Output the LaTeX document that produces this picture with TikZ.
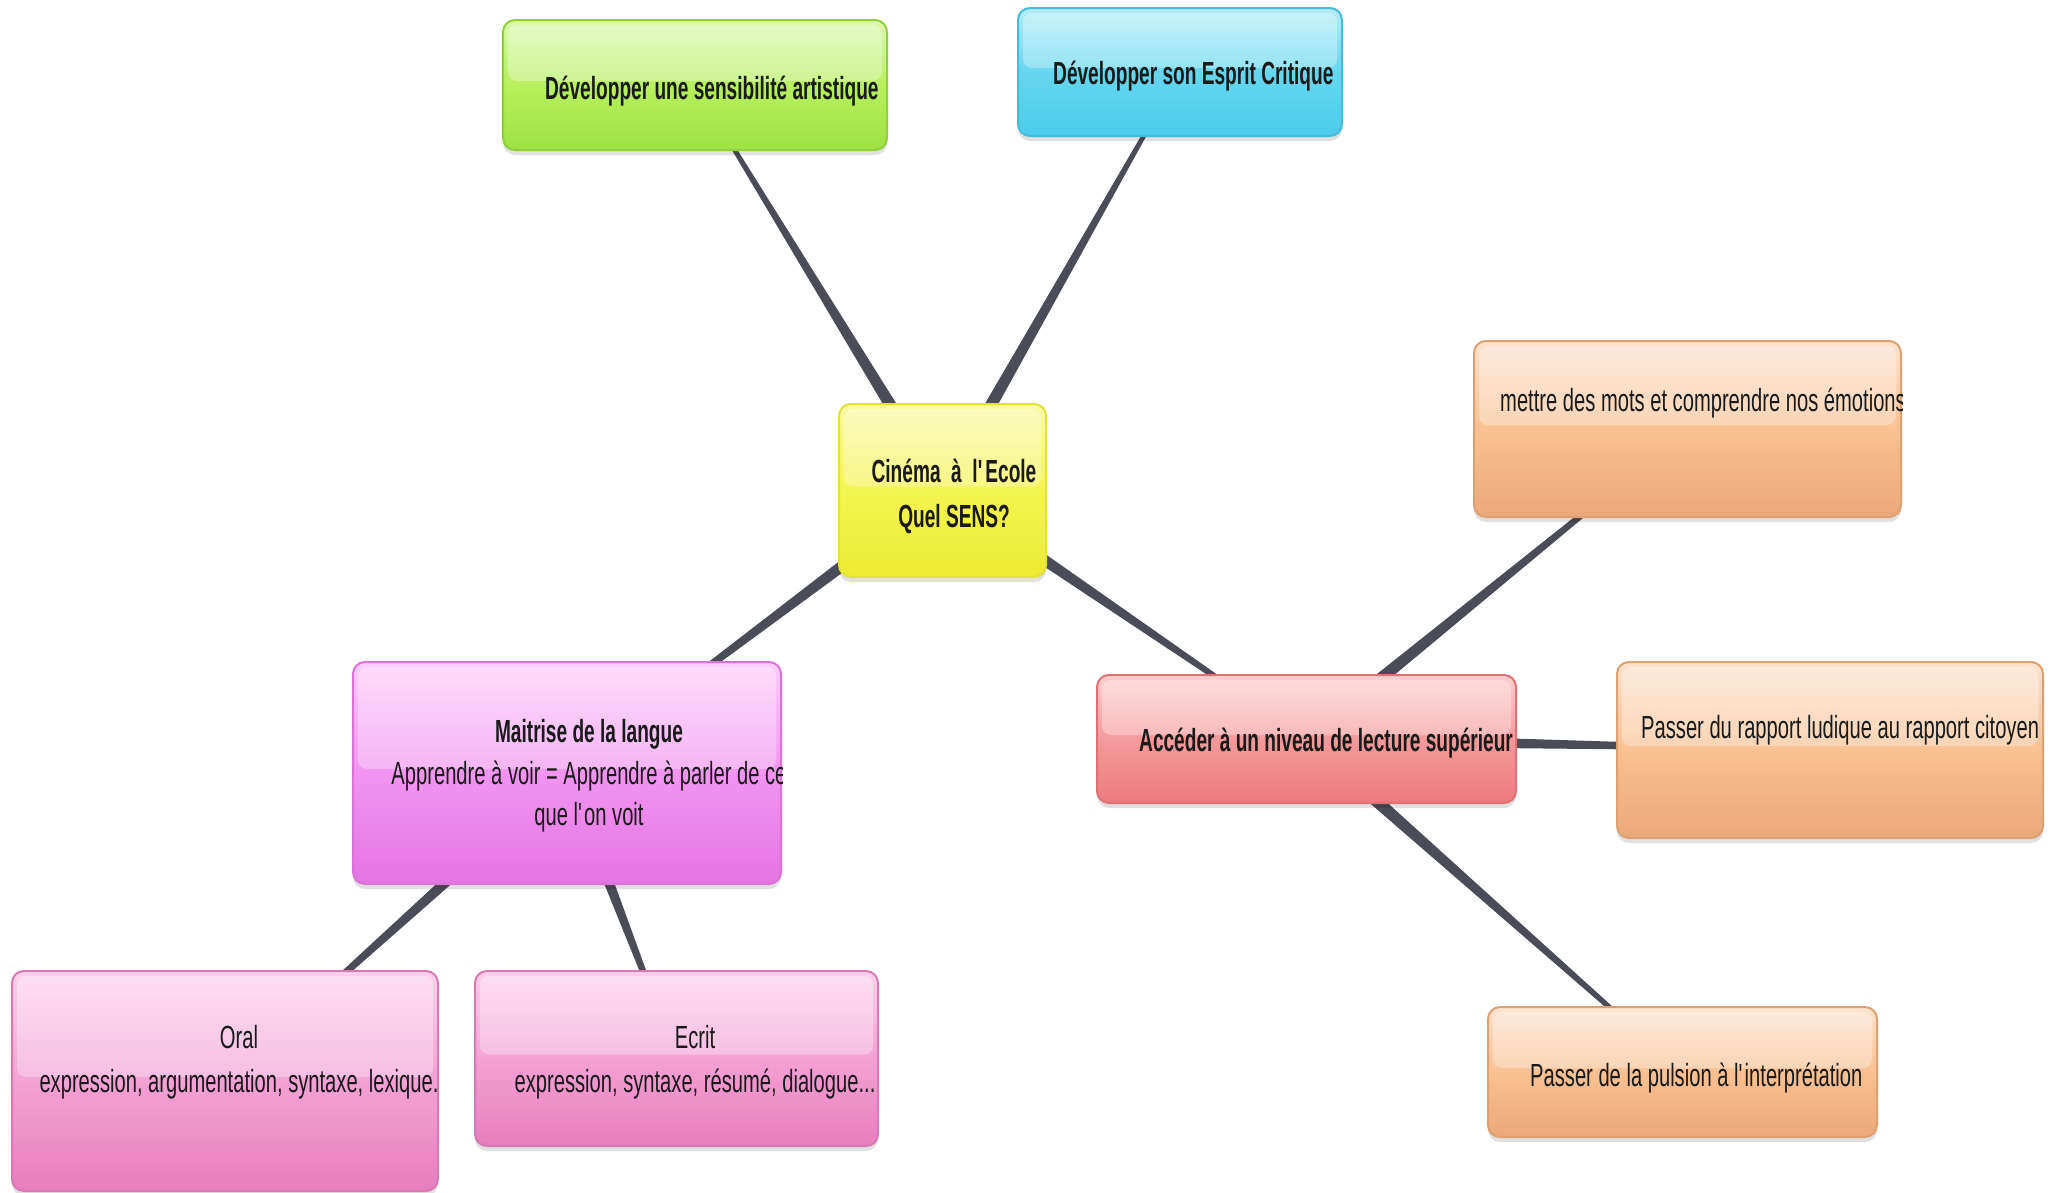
\documentclass[tikz,border=0pt]{standalone}
\usepackage{fontspec}
\setmainfont[UprightFeatures={FakeStretch=0.63},BoldFeatures={FakeStretch=0.597}]{Liberation Sans}
\usetikzlibrary{calc,backgrounds,shadows}

\definecolor{conncol}{HTML}{4A4C57}
\definecolor{txtcol}{HTML}{1A1A1A}
% green
\definecolor{gT}{HTML}{DDF8B0}\definecolor{gM}{HTML}{B6F05E}\definecolor{gB}{HTML}{9FE244}\definecolor{gD}{HTML}{8ED13C}
% blue
\definecolor{bT}{HTML}{B4EEF9}\definecolor{bM}{HTML}{66D6EF}\definecolor{bB}{HTML}{4CCBE9}\definecolor{bD}{HTML}{46BCDD}
% yellow
\definecolor{yT}{HTML}{FAFAA8}\definecolor{yM}{HTML}{F4F450}\definecolor{yB}{HTML}{ECEC34}\definecolor{yD}{HTML}{E2E23A}
% magenta
\definecolor{mT}{HTML}{FCCDFB}\definecolor{mM}{HTML}{F294F1}\definecolor{mB}{HTML}{E475E2}\definecolor{mD}{HTML}{DA72D8}
% pink
\definecolor{pT}{HTML}{FCD2EC}\definecolor{pM}{HTML}{F3A2D4}\definecolor{pB}{HTML}{E87DBE}\definecolor{pD}{HTML}{DA78B4}
% red
\definecolor{rT}{HTML}{FDD0D0}\definecolor{rM}{HTML}{F49A9C}\definecolor{rB}{HTML}{EC7A80}\definecolor{rD}{HTML}{E07074}
% orange
\definecolor{oT}{HTML}{FDE3CE}\definecolor{oM}{HTML}{F9C193}\definecolor{oB}{HTML}{EAA87A}\definecolor{oD}{HTML}{DDA071}

\tikzset{
  mmbox/.style n args={4}{rectangle, inner sep=0pt, draw=#4, line width=2pt,
    rounded corners=12pt, top color=#1, bottom color=#3, middle color=#2,
    drop shadow={shadow xshift=0pt, shadow yshift=-5pt, opacity=0.12, fill=black}},
  txt/.style={inner sep=0pt, text=txtcol, font=\fontsize{32}{44}\selectfont},
  mtxt/.style={txt, align=center},
  conn/.style={fill=conncol},
}

\newcommand\gloss[1]{\fill[white,opacity=.3,rounded corners=9pt]
  ([shift={(6pt,-6pt)}]#1.north west) rectangle ([shift={(-6pt,4pt)}]#1.east);}
\newcommand\boxclip[1]{\clip[rounded corners=12pt] (#1.north west) rectangle (#1.south east);}
\newcommand\taperline[2]{\fill[conn] ($(#1)!7pt!90:(#2)$) -- ($(#2)!1.5pt!-90:(#1)$)
  -- ($(#2)!1.5pt!90:(#1)$) -- ($(#1)!7pt!-90:(#2)$) -- cycle;}

\begin{document}
\begin{tikzpicture}[x=1pt,y=-1pt]
\useasboundingbox (0,0) rectangle (2065,1192);
\begin{scope}[on background layer]
  \fill[white] (0,0) rectangle (2065,1192);
\end{scope}

% boxes
\node[mmbox={gT}{gM}{gB}{gD}, minimum width=384pt, minimum height=130pt] (green) at (695,85) {};
\node[mmbox={bT}{bM}{bB}{bD}, minimum width=324pt, minimum height=128pt] (blue) at (1180,72) {};
\node[mmbox={yT}{yM}{yB}{yD}, minimum width=207pt, minimum height=173pt] (yellow) at (942.5,490.5) {};
\node[mmbox={mT}{mM}{mB}{mD}, minimum width=428pt, minimum height=222pt] (maitrise) at (567,773) {};
\node[mmbox={pT}{pM}{pB}{pD}, minimum width=426pt, minimum height=220pt] (oral) at (225,1081) {};
\node[mmbox={pT}{pM}{pB}{pD}, minimum width=403pt, minimum height=175pt] (ecrit) at (676.5,1058.5) {};
\node[mmbox={oT}{oM}{oB}{oD}, minimum width=427pt, minimum height=176pt] (orange1) at (1687.5,429) {};
\node[mmbox={rT}{rM}{rB}{rD}, minimum width=419pt, minimum height=128pt] (red) at (1306.5,739) {};
\node[mmbox={oT}{oM}{oB}{oD}, minimum width=426pt, minimum height=176pt] (orange2) at (1830,750) {};
\node[mmbox={oT}{oM}{oB}{oD}, minimum width=389pt, minimum height=130pt] (orange3) at (1682.5,1072) {};

% gloss and texts (clipped to their boxes)
\begin{scope}\boxclip{green}\gloss{green}
  \node[txt, anchor=base west] (greenT) at (545,99) {\bfseries Développer une sensibilité artistique};
\end{scope}
\begin{scope}\boxclip{blue}\gloss{blue}
  \node[txt, anchor=base west] (blueT) at (1053,84) {\bfseries Développer son Esprit Critique};
\end{scope}
\begin{scope}\boxclip{yellow}\gloss{yellow}
  \node[mtxt, font=\fontsize{32}{45}\selectfont\bfseries] (yellowT) at (954,496)
    {Cinéma~ à~ l\textquotesingle Ecole\\Quel SENS?};
\end{scope}
\begin{scope}\boxclip{maitrise}\gloss{maitrise}
  \node[mtxt, font=\fontsize{32}{41.5}\selectfont] (maitriseT) at (589,776)
    {\textbf{Maitrise de la langue}\\Apprendre à voir = Apprendre à parler de ce\\que l\textquotesingle on voit};
\end{scope}
\begin{scope}\boxclip{oral}\gloss{oral}
  \node[mtxt] (oralT) at (239,1062) {Oral\\expression, argumentation, syntaxe, lexique.};
\end{scope}
\begin{scope}\boxclip{ecrit}\gloss{ecrit}
  \node[mtxt] (ecritT) at (695,1062) {Ecrit\\expression, syntaxe, résumé, dialogue...};
\end{scope}
\begin{scope}\boxclip{orange1}\gloss{orange1}
  \node[txt, anchor=base west] (orange1T) at (1500,411) {mettre des mots et comprendre nos émotions};
\end{scope}
\begin{scope}\boxclip{red}\gloss{red}
  \node[txt, anchor=base west] (redT) at (1139,751) {\bfseries Accéder à un niveau de lecture supérieur};
\end{scope}
\begin{scope}\boxclip{orange2}\gloss{orange2}
  \node[txt, anchor=base west] (orange2T) at (1641,738) {Passer du rapport ludique au rapport citoyen};
\end{scope}
\begin{scope}\boxclip{orange3}\gloss{orange3}
  \node[txt, anchor=base west] (orange3T) at (1530,1086) {Passer de la pulsion à l\textquotesingle interprétation};
\end{scope}

% connectors
\begin{scope}[on background layer]
  \taperline{yellow}{green}
  \taperline{yellow}{blue}
  \taperline{yellow}{maitrise}
  \taperline{yellow}{red}
  \taperline{red}{orange1}
  \taperline{red}{orange2}
  \taperline{red}{orange3}
  \taperline{maitrise}{oral}
  \taperline{maitrise}{ecrit}
\end{scope}
\end{tikzpicture}
\end{document}
